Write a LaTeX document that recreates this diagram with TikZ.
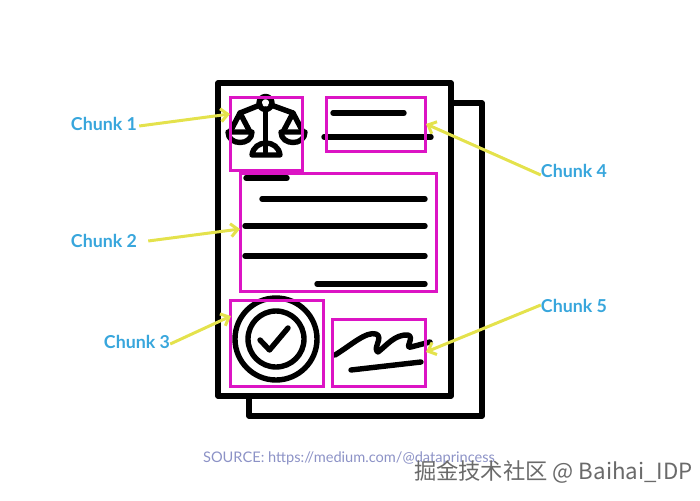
\documentclass[tikz,border=0pt]{standalone}
\usepackage{fontspec}
\usetikzlibrary{arrows.meta}
\setmainfont{Lato}
\newfontfamily\cjkfont{Noto Sans CJK SC}
\definecolor{chunkblue}{HTML}{38A6DC}
\definecolor{boxpink}{HTML}{DC14C4}
\definecolor{arrowyellow}{HTML}{E4E24C}
\definecolor{sourceblue}{HTML}{8C92C6}
\definecolor{markgray}{HTML}{6A6A6A}
\tikzset{
  chunklabel/.style={text=chunkblue,font=\bfseries\fontsize{17.8}{18}\selectfont,inner sep=0pt},
  chunkbox/.style={draw=boxpink,line width=3pt,inner sep=0pt},
  chunkarrow/.style={draw=arrowyellow,line width=3pt,-{Straight Barb[length=7pt,width=13pt]}},
  inkline/.style={draw=black,line width=5.4pt,line cap=round},
  iconline/.style={draw=black,line width=5.4pt,line cap=round,line join=round},
  sheet/.style={draw=black,line width=5.4pt,line join=round}
}
\begin{document}
\begin{tikzpicture}[x=1pt,y=-1pt]
\useasboundingbox (0,0) rectangle (700,500);
\path[sheet] (451,103) -- (482,103) -- (482,416) -- (249,416) -- (249,396);
\path[sheet] (218,83) rectangle (451,396);
\path[inkline] (333,113) -- (404,113);
\path[inkline] (324,137) -- (431,137);
\path[inkline] (246,178) -- (287,178);
\path[inkline] (262,199) -- (425,199);
\path[inkline] (245,226) -- (425,226);
\path[inkline] (245,256) -- (425,256);
\path[inkline] (317,284) -- (425,284);
\path[iconline] (265.5,103) circle (6.5);
\path[iconline] (265.5,109) -- (265.5,152);
\path[iconline] (260,105) -- (240,113) -- (230,132);
\path[iconline] (240,113) -- (250,132);
\path[iconline] (271,105) -- (293,113) -- (283,132);
\path[iconline] (293,113) -- (303,132);
\path[iconline] (228,132) .. controls (228,146) and (252,146) .. (252,132) -- cycle;
\path[iconline] (281,132) .. controls (281,146) and (305,146) .. (305,132) -- cycle;
\path[iconline] (252,155) .. controls (254,139) and (278,139) .. (280,155) -- cycle;
\path[iconline] (276,339) circle (41);
\path[iconline] (276,339) circle (28);
\path[iconline] (260,340) -- (269.5,350) -- (288,328);
\path[iconline] (335,355) .. controls (350,346) and (366,331) .. (376,334) .. controls (384,337) and (372,349) .. (378,352) .. controls (386,346) and (395,334) .. (408,335) .. controls (415,337) and (404,349) .. (411,347) -- (430,342);
\path[iconline] (351,370) -- (421,362);
\node[chunkbox,minimum width=72pt,minimum height=72pt] (box1) at (266,134) {};
\node[chunkbox,minimum width=196pt,minimum height=118pt] (box2) at (338,232) {};
\node[chunkbox,minimum width=93pt,minimum height=86pt] (box3) at (276.5,343) {};
\node[chunkbox,minimum width=99pt,minimum height=53pt] (box4) at (375.5,124.5) {};
\node[chunkbox,minimum width=93pt,minimum height=67pt] (box5) at (378.5,352.5) {};
\node[chunklabel] (chunk1) at (104,124) {Chunk 1};
\node[chunklabel] (chunk2) at (104,241) {Chunk 2};
\node[chunklabel] (chunk3) at (137,342) {Chunk 3};
\node[chunklabel] (chunk4) at (574,171) {Chunk 4};
\node[chunklabel] (chunk5) at (574,306) {Chunk 5};
\coordinate (tip1) at (230,114);
\coordinate (tip2) at (240,229);
\coordinate (tip3) at (231,316);
\coordinate (tip4) at (426,124);
\coordinate (tip5) at (426,352);
\path[chunkarrow] ([xshift=2pt,yshift=-2pt]chunk1.east) -- (tip1);
\path[chunkarrow] ([xshift=11pt]chunk2.east) -- (tip2);
\path[chunkarrow] ([xshift=0pt,yshift=-2pt]chunk3.east) -- (tip3);
\path[chunkarrow] ([yshift=-4pt]chunk4.west) -- (tip4);
\path[chunkarrow] ([yshift=1pt]chunk5.west) -- (tip5);
\node[text=sourceblue,font=\fontsize{14.6}{15}\selectfont,inner sep=0pt] (source) at (349,458) {SOURCE: https://medium.com/@dataprincess};
\node[text=markgray,font=\cjkfont\fontsize{22.3}{23}\selectfont,inner sep=0pt] (mark) at (553.5,472) {掘金技术社区 @ Baihai\_IDP};
\end{tikzpicture}
\end{document}
